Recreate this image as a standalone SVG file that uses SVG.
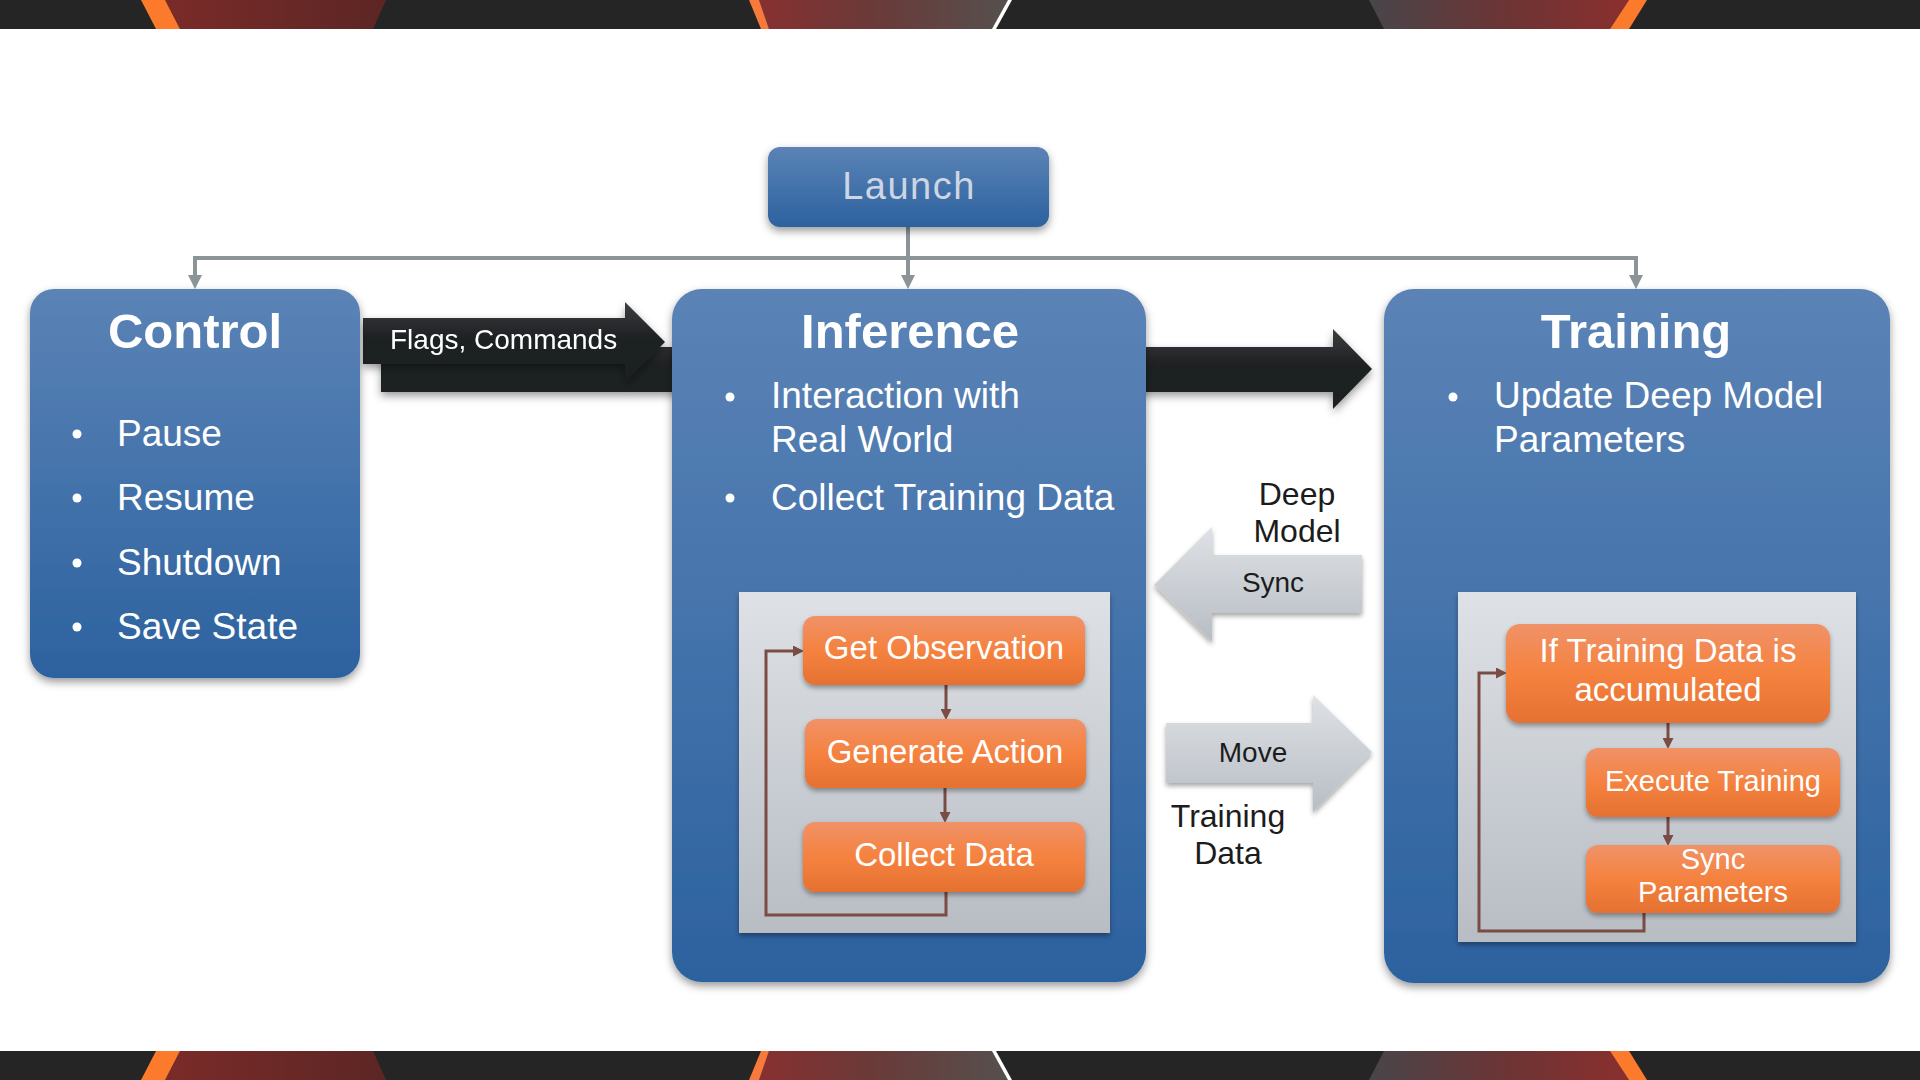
<svg xmlns="http://www.w3.org/2000/svg" width="1920" height="1080" viewBox="0 0 1920 1080">
<defs>
  <style>
    .t{font-family:"Liberation Sans","Noto Sans",Arial,sans-serif}
    .title{font-size:49px;font-weight:bold;fill:#ffffff;text-anchor:middle}
    .bul{font-size:37px;fill:#ffffff}
    .ob{font-size:33px;fill:#ffffff;text-anchor:middle}
    .obs{font-size:29px;fill:#ffffff;text-anchor:middle}
    .lbl{font-size:32px;fill:#1c1c1c;text-anchor:middle}
    .albl{font-size:28px;fill:#1c1c1c;text-anchor:middle}
    .gc{fill:none;stroke:#8b9598;stroke-width:4}
    .bc{fill:none;stroke:#7b4c44;stroke-width:3}
  </style>
  <linearGradient id="gBlue" x1="0" y1="0" x2="0" y2="1">
    <stop offset="0" stop-color="#5b83b6"/>
    <stop offset="1" stop-color="#2c629f"/>
  </linearGradient>
  <linearGradient id="gOrange" x1="0" y1="0" x2="0" y2="1">
    <stop offset="0" stop-color="#f09268"/>
    <stop offset="0.5" stop-color="#f5823f"/>
    <stop offset="1" stop-color="#e57131"/>
  </linearGradient>
  <linearGradient id="gGrey" x1="0" y1="0" x2="0" y2="1">
    <stop offset="0" stop-color="#dee2e6"/>
    <stop offset="1" stop-color="#b8bdc4"/>
  </linearGradient>
  <linearGradient id="gDark" x1="0" y1="0" x2="0" y2="1">
    <stop offset="0" stop-color="#3d3e41"/>
    <stop offset="0.45" stop-color="#1f2123"/>
    <stop offset="1" stop-color="#1d1f21"/>
  </linearGradient>
  <linearGradient id="gRed" x1="0" y1="0" x2="1" y2="0">
    <stop offset="0" stop-color="#7a2b29"/>
    <stop offset="1" stop-color="#5c2624"/>
  </linearGradient>
  <linearGradient id="gRedGrey" x1="0" y1="0" x2="1" y2="0">
    <stop offset="0" stop-color="#873030"/>
    <stop offset="0.45" stop-color="#6a3a38"/>
    <stop offset="1" stop-color="#55504e"/>
  </linearGradient>
  <linearGradient id="gGreyRed" x1="0" y1="0" x2="1" y2="0">
    <stop offset="0" stop-color="#48454a"/>
    <stop offset="0.55" stop-color="#6e3434"/>
    <stop offset="1" stop-color="#8a2f2e"/>
  </linearGradient>
  <filter id="sh" x="-10%" y="-10%" width="120%" height="130%">
    <feDropShadow dx="0" dy="4" stdDeviation="4" flood-color="#000" flood-opacity="0.4"/>
  </filter>
  <filter id="shs" x="-10%" y="-10%" width="120%" height="130%">
    <feDropShadow dx="0" dy="3" stdDeviation="2.5" flood-color="#000" flood-opacity="0.35"/>
  </filter>
  <marker id="ag" markerWidth="14" markerHeight="14" refX="7" refY="7" orient="auto" markerUnits="userSpaceOnUse">
    <path d="M0,0 L14,7 L0,14 z" fill="#8b9598"/>
  </marker>
  <marker id="ab" markerWidth="11" markerHeight="11" refX="5" refY="5.5" orient="auto" markerUnits="userSpaceOnUse">
    <path d="M0,0 L11,5.5 L0,11 z" fill="#7b4c44"/>
  </marker>
  <g id="band">
    <rect x="0" y="0" width="1920" height="29" fill="#252525"/>
    <polygon points="165,0 386,0 373,29 180,29" fill="url(#gRed)"/>
    <polygon points="141,0 165,0 180,29 156,29" fill="#fb7a2c"/>
    <polygon points="759,0 1010,0 994,29 769,29" fill="url(#gRedGrey)"/>
    <polygon points="749,0 759,0 769,29 761,29" fill="#f77a3c"/>
    <polygon points="1008,0 1012,0 996,29 992,29" fill="#ffffff"/>
    <polygon points="1369,0 1629,0 1610,29 1384,29" fill="url(#gGreyRed)"/>
    <polygon points="1629,0 1647,0 1629,29 1610,29" fill="#fb7a2c"/>
  </g>
</defs>

<rect x="0" y="0" width="1920" height="1080" fill="#ffffff"/>
<use href="#band"/>
<use href="#band" transform="translate(0,1080) scale(1,-1)"/>

<g id="connectors">
  <path class="gc" d="M908,227 V282" marker-end="url(#ag)"/>
  <path class="gc" d="M195,258 H1636"/>
  <path class="gc" d="M195,256 V282" marker-end="url(#ag)"/>
  <path class="gc" d="M1636,256 V282" marker-end="url(#ag)"/>
  <g id="arrow-main" filter="url(#sh)">
    <polygon points="381,347 1333,347 1333,329 1372,369 1333,409 1333,392 381,392" fill="url(#gDark)"/>
  </g>
  <g id="arrow-flags" filter="url(#sh)">
    <polygon points="363,318 625,318 625,302 665,342 625,382 625,364 363,364" fill="url(#gDark)"/>
    <text class="t" x="390" y="349" font-size="28" fill="#ffffff">Flags, Commands</text>
  </g>
</g>

<g id="launch">
  <rect x="768" y="147" width="281" height="80" rx="12" fill="url(#gBlue)" filter="url(#sh)"/>
  <text class="t" x="909" y="199" font-size="38" letter-spacing="1.5" fill="#cdd6e2" text-anchor="middle">Launch</text>
</g>

<g id="control">
  <rect x="30" y="289" width="330" height="389" rx="24" fill="url(#gBlue)" filter="url(#sh)"/>
  <text class="t title" x="195" y="348">Control</text>
  <circle cx="77" cy="434" r="4.5" fill="#ffffff"/>
  <circle cx="77" cy="498" r="4.5" fill="#ffffff"/>
  <circle cx="77" cy="563" r="4.5" fill="#ffffff"/>
  <circle cx="77" cy="627" r="4.5" fill="#ffffff"/>
  <text class="t bul" x="117" y="446">Pause</text>
  <text class="t bul" x="117" y="510">Resume</text>
  <text class="t bul" x="117" y="575">Shutdown</text>
  <text class="t bul" x="117" y="639">Save State</text>
</g>

<g id="inference">
  <rect x="672" y="289" width="474" height="693" rx="30" fill="url(#gBlue)" filter="url(#sh)"/>
  <text class="t title" x="910" y="348">Inference</text>
  <circle cx="730" cy="397" r="4.5" fill="#ffffff"/>
  <circle cx="730" cy="498" r="4.5" fill="#ffffff"/>
  <text class="t bul" x="771" y="408">Interaction with</text>
  <text class="t bul" x="771" y="452">Real World</text>
  <text class="t bul" x="771" y="510">Collect Training Data</text>
  <rect x="739" y="592" width="371" height="341" fill="url(#gGrey)" filter="url(#shs)"/>
</g>

<g id="training">
  <rect x="1384" y="289" width="506" height="694" rx="30" fill="url(#gBlue)" filter="url(#sh)"/>
  <text class="t title" x="1636" y="348">Training</text>
  <circle cx="1453" cy="397" r="4.5" fill="#ffffff"/>
  <text class="t bul" x="1494" y="408">Update Deep Model</text>
  <text class="t bul" x="1494" y="452">Parameters</text>
  <rect x="1458" y="592" width="398" height="350" fill="url(#gGrey)" filter="url(#shs)"/>
</g>

<g id="inner-connectors">
  <path class="bc" d="M946,685 V714" marker-end="url(#ab)"/>
  <path class="bc" d="M945,788 V817" marker-end="url(#ab)"/>
  <path class="bc" d="M946,892 V915 H766 V651 H798" marker-end="url(#ab)"/>
  <path class="bc" d="M1668,723 V743" marker-end="url(#ab)"/>
  <path class="bc" d="M1668,817 V840" marker-end="url(#ab)"/>
  <path class="bc" d="M1644,913 V931 H1479 V673 H1501" marker-end="url(#ab)"/>
</g>

<g id="get-observation">
  <rect x="803" y="616" width="282" height="69" rx="12" fill="url(#gOrange)" filter="url(#shs)"/>
  <text class="t ob" x="944" y="659">Get Observation</text>
</g>
<g id="generate-action">
  <rect x="805" y="719" width="281" height="69" rx="12" fill="url(#gOrange)" filter="url(#shs)"/>
  <text class="t ob" x="945" y="763">Generate Action</text>
</g>
<g id="collect-data">
  <rect x="803" y="822" width="282" height="70" rx="12" fill="url(#gOrange)" filter="url(#shs)"/>
  <text class="t ob" x="944" y="866">Collect Data</text>
</g>

<g id="if-training">
  <rect x="1506" y="624" width="324" height="99" rx="14" fill="url(#gOrange)" filter="url(#shs)"/>
  <text class="t ob" x="1668" y="662">If Training Data is</text>
  <text class="t ob" x="1668" y="701">accumulated</text>
</g>
<g id="execute-training">
  <rect x="1586" y="748" width="254" height="69" rx="12" fill="url(#gOrange)" filter="url(#shs)"/>
  <text class="t obs" x="1713" y="791">Execute Training</text>
</g>
<g id="sync-parameters">
  <rect x="1586" y="845" width="254" height="68" rx="12" fill="url(#gOrange)" filter="url(#shs)"/>
  <text class="t obs" x="1713" y="869">Sync</text>
  <text class="t obs" x="1713" y="902">Parameters</text>
</g>

<g id="sync-arrow">
  <polygon points="1154,585 1212,527 1212,555 1362,555 1362,613 1212,613 1212,642" fill="url(#gGrey)" filter="url(#shs)"/>
  <text class="t albl" x="1273" y="592">Sync</text>
  <text class="t lbl" x="1297" y="505">Deep</text>
  <text class="t lbl" x="1297" y="542">Model</text>
</g>
<g id="move-arrow">
  <polygon points="1166,723 1313,723 1313,695 1372,752 1313,812 1313,783 1166,783" fill="url(#gGrey)" filter="url(#shs)"/>
  <text class="t albl" x="1253" y="762">Move</text>
  <text class="t lbl" x="1228" y="827">Training</text>
  <text class="t lbl" x="1228" y="864">Data</text>
</g>
</svg>
